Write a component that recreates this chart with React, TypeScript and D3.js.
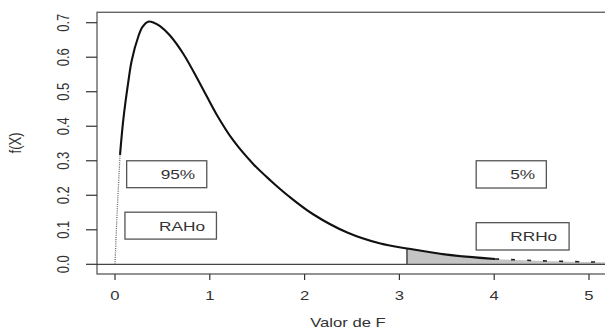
import React, { useEffect, useRef } from "react";
import * as d3 from "d3";

// values
const fValues = [0, 0.018, 0.035, 0.053, 0.088, 0.141, 0.176, 0.246, 0.29, 0.35, 0.41, 0.475, 0.58, 0.72, 0.9, 1.07, 1.25, 1.46, 1.64, 1.83, 2.09, 2.45, 2.8, 3.08, 3.5, 4.01, 4.45, 5.0, 5.25];
const densities = [0, 0.123, 0.22, 0.317, 0.42, 0.53, 0.59, 0.66, 0.688, 0.703, 0.7, 0.69, 0.663, 0.61, 0.522, 0.435, 0.358, 0.29, 0.243, 0.198, 0.145, 0.092, 0.06, 0.046, 0.028, 0.0155, 0.0105, 0.0068, 0.0058];
const xTicks = [0, 1, 2, 3, 4, 5];
const yTicks = [0, 0.1, 0.2, 0.3, 0.4, 0.5, 0.6, 0.7];
const criticalF = 3.08;
const boxLabels = ["95%", "RAHo", "5%", "RRHo"];

type Pt = { x: number; y: number };

const App: React.FC = () => {
  const svgRef = useRef<SVGSVGElement>(null);

  useEffect(() => {
    if (!svgRef.current) return;
    const width = 605;
    const height = 329;
    const svg = d3.select(svgRef.current);
    svg.selectAll("*").remove();
    svg.attr("width", width).attr("height", height);

    const x = d3.scaleLinear().domain([0, 5]).range([115, 589]);
    const y = d3.scaleLinear().domain([0, 0.7]).range([264.3, 22.7]);

    const data: Pt[] = fValues.map((v, i) => ({ x: v, y: densities[i] }));
    const ink = "#333";
    const font = "'Liberation Sans', Arial, sans-serif";
    const stretch = 1.28;
    const smooth = d3.curveCatmullRom.alpha(0.5);

    // plot box
    svg
      .append("rect")
      .attr("x", 97)
      .attr("y", 12.3)
      .attr("width", width)
      .attr("height", 274 - 12.3)
      .attr("fill", "none")
      .attr("stroke", "#666")
      .attr("stroke-width", 1.4);

    // shaded rejection region
    const tail = data.filter((d) => d.x >= criticalF);
    const area = d3
      .area<Pt>()
      .x((d) => x(d.x))
      .y0(y(0))
      .y1((d) => y(d.y))
      .curve(smooth);
    svg
      .append("path")
      .datum(tail)
      .attr("d", area as any)
      .attr("fill", "#c4c4c4");

    // baseline
    svg
      .append("line")
      .attr("x1", 97)
      .attr("x2", width)
      .attr("y1", y(0))
      .attr("y2", y(0))
      .attr("stroke", "#444")
      .attr("stroke-width", 1.2);

    // critical value line
    svg
      .append("line")
      .attr("x1", x(criticalF))
      .attr("x2", x(criticalF))
      .attr("y1", y(0))
      .attr("y2", y(0.046))
      .attr("stroke", "#444")
      .attr("stroke-width", 1.5);

    const line = d3
      .line<Pt>()
      .x((d) => x(d.x))
      .y((d) => y(d.y))
      .curve(smooth);

    // dotted start near zero
    svg
      .append("path")
      .datum(data.filter((d) => d.x <= 0.053))
      .attr("d", line as any)
      .attr("fill", "none")
      .attr("stroke", "#666")
      .attr("stroke-width", 1.3)
      .attr("stroke-dasharray", "1,1.2");

    svg
      .append("path")
      .datum(data.filter((d) => d.x >= 0.053 && d.x <= 4.01))
      .attr("d", line as any)
      .attr("fill", "none")
      .attr("stroke", "#111")
      .attr("stroke-width", 2.1);

    svg
      .append("path")
      .datum(data.filter((d) => d.x >= 4.01))
      .attr("d", line as any)
      .attr("fill", "none")
      .attr("stroke", "#222")
      .attr("stroke-width", 1.6)
      .attr("stroke-dasharray", "4,12");

    // x axis
    const xAxis = svg.append("g");
    xTicks.forEach((t) => {
      xAxis
        .append("line")
        .attr("x1", x(t))
        .attr("x2", x(t))
        .attr("y1", 274)
        .attr("y2", 280)
        .attr("stroke", ink)
        .attr("stroke-width", 1.2);
      xAxis
        .append("text")
        .attr("transform", `translate(${x(t)},300) scale(${stretch},1)`)
        .attr("text-anchor", "middle")
        .attr("font-family", font)
        .attr("font-size", 13)
        .attr("fill", ink)
        .text(String(t));
    });

    // y axis
    const yAxis = svg.append("g");
    yTicks.forEach((t) => {
      yAxis
        .append("line")
        .attr("x1", 86)
        .attr("x2", 97)
        .attr("y1", y(t))
        .attr("y2", y(t))
        .attr("stroke", ink)
        .attr("stroke-width", 1.2);
      yAxis
        .append("text")
        .attr("transform", `translate(69,${y(t)}) scale(${stretch},1) rotate(-90)`)
        .attr("text-anchor", "middle")
        .attr("font-family", font)
        .attr("font-size", 13)
        .attr("fill", ink)
        .text(t.toFixed(1));
    });

    // axis titles
    svg
      .append("text")
      .attr("transform", `translate(348,327) scale(${stretch},1)`)
      .attr("text-anchor", "middle")
      .attr("font-family", font)
      .attr("font-size", 13)
      .attr("fill", ink)
      .text("Valor de F");
    svg
      .append("text")
      .attr("transform", `translate(21,143) scale(${stretch},1) rotate(-90)`)
      .attr("text-anchor", "middle")
      .attr("font-family", font)
      .attr("font-size", 13)
      .attr("fill", ink)
      .text("f(X)");

    // label boxes: [x0, x1, yTop, yBottom] in data units
    const boxes = [
      [0.123, 0.968, 0.3, 0.222],
      [0.105, 1.07, 0.151, 0.073],
      [3.81, 4.55, 0.3, 0.221],
      [3.81, 4.79, 0.1206, 0.0414],
    ];
    boxes.forEach((b, i) => {
      const bx = x(b[0]);
      const by = y(b[2]);
      const bh = y(b[3]) - by;
      svg
        .append("rect")
        .attr("x", bx)
        .attr("y", by)
        .attr("width", x(b[1]) - bx)
        .attr("height", bh)
        .attr("fill", "white")
        .attr("stroke", "#555")
        .attr("stroke-width", 1.3);
      svg
        .append("text")
        .attr("transform", `translate(${bx + 34},${by + bh / 2 + 5}) scale(${stretch},1)`)
        .attr("font-family", font)
        .attr("font-size", 13.5)
        .attr("fill", ink)
        .text(boxLabels[i]);
    });
  }, []);

  return (
    <svg
      ref={svgRef}
      style={{ position: "absolute", left: 0, top: 0, background: "white" }}
    />
  );
};

export default App;
